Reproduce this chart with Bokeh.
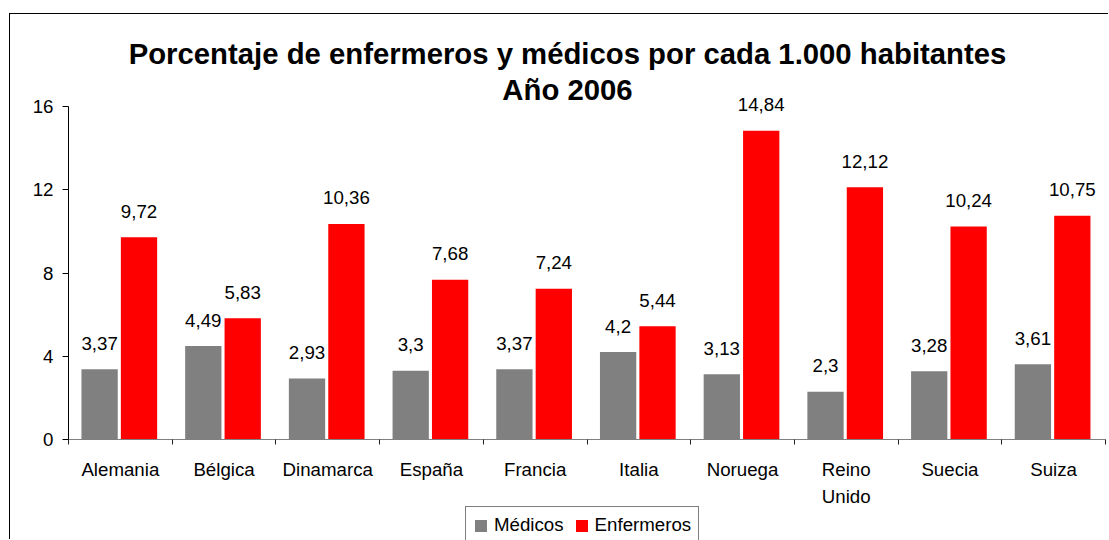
from bokeh.plotting import figure
from bokeh.models import ColumnDataSource, FixedTicker, Range1d, Label, Legend, LegendItem
from bokeh.core.properties import value
from bokeh.embed import file_html
from bokeh.resources import INLINE

# ---- data ----
categories = ["Alemania", "Bélgica", "Dinamarca", "España", "Francia",
              "Italia", "Noruega", "Reino Unido", "Suecia", "Suiza"]
medicos = [3.37, 4.49, 2.93, 3.3, 3.37, 4.2, 3.13, 2.3, 3.28, 3.61]
enfermeros = [9.72, 5.83, 10.36, 7.68, 7.24, 5.44, 14.84, 12.12, 10.24, 10.75]
y_ticks = [0, 4, 8, 12, 16]
title_lines = ["Porcentaje de enfermeros y médicos por cada 1.000 habitantes", "Año 2006"]
series_names = ["Médicos", "Enfermeros"]

FONT = "Liberation Sans"
FS = "18.7px"

def fmt(v):
    return ("%g" % v).replace(".", ",")

# ---- layout geometry (pixels inside the canvas) ----
W, H = 1099, 526
PX_L, PX_R = 58, 1095      # plot area left/right
PX_T, PX_B = 92, 425       # plot area top (y=16) / bottom (y=0)
n = len(categories)
ymax = y_ticks[-1]
xs = (PX_R - PX_L) / n
ys = (PX_B - PX_T) / ymax
x_range = Range1d(-PX_L / xs, (W - PX_L) / xs)
y_range = Range1d(-(H - PX_B) / ys, ymax + PX_T / ys)

centers = [i + 0.49 for i in range(n)]
off = 0.19
bw = 0.35

src_m = ColumnDataSource(dict(x=[c - off for c in centers], top=medicos,
                              lab=[fmt(v) for v in medicos]))
src_e = ColumnDataSource(dict(x=[c + off for c in centers], top=enfermeros,
                              lab=[fmt(v) for v in enfermeros]))

p = figure(width=W, height=H, output_backend="svg", toolbar_location=None,
           x_range=x_range, y_range=y_range,
           min_border_left=0, min_border_right=0, min_border_top=0, min_border_bottom=0,
           styles={"margin-left": "9px", "margin-top": "13px",
                   "border-left": "1px solid black", "border-top": "1px solid black"})
p.title.visible = False
p.outline_line_color = None
p.background_fill_color = "white"
p.border_fill_color = "white"
p.xgrid.visible = False
p.ygrid.visible = False

r_m = p.vbar(x="x", top="top", width=bw, bottom=0, source=src_m, color="#808080",
             line_color=None)
r_e = p.vbar(x="x", top="top", width=bw, bottom=0, source=src_e, color="#FF0000",
             line_color=None)

for s in (src_m, src_e):
    p.text(x="x", y="top", text="lab", source=s, text_align="center",
           text_baseline="alphabetic", y_offset=-26, text_color="black",
           text_font=value(FONT), text_font_size=FS)

# x axis: labels at centres, ticks at boundaries
xa = p.xaxis[0]
xa.fixed_location = 0
xa.bounds = (0, n)
xa.ticker = FixedTicker(ticks=[i + 0.5 for i in range(n)],
                        minor_ticks=list(range(n + 1)))
xa.major_label_overrides = {i + 0.5: c.replace(" ", "\n") for i, c in enumerate(categories)}
xa.major_tick_line_color = None
xa.major_tick_out = 0
xa.major_tick_in = 0
xa.minor_tick_out = 5
xa.minor_tick_in = 0
xa.minor_tick_line_color = "#202020"
xa.axis_line_color = "#808080"
xa.major_label_standoff = 14
xa.major_label_text_font = FONT
xa.major_label_text_font_size = FS
xa.major_label_text_color = "black"
xa.major_label_text_line_height = 1.33

ya = p.yaxis[0]
ya.fixed_location = 0
ya.bounds = (0, ymax)
ya.ticker = FixedTicker(ticks=y_ticks, minor_ticks=[])
ya.axis_line_color = "black"
ya.major_tick_line_color = "black"
ya.major_tick_out = 6
ya.major_tick_in = 0
ya.minor_tick_line_color = None
ya.major_label_standoff = 9
ya.major_label_text_font = FONT
ya.major_label_text_font_size = FS
ya.major_label_text_color = "black"

# title: two centred lines above the plot area
for t, y_px in zip(title_lines, [39, 75]):
    p.add_layout(Label(x=(557 - PX_L) / xs, y=ymax + (PX_T - y_px) / ys, text=t,
                       text_align="center", text_baseline="alphabetic",
                       text_font=FONT, text_font_size="29.3px", text_font_style="bold",
                       text_color="black"))

# legend under the category labels
lg = Legend(items=[LegendItem(label=series_names[0], renderers=[r_m]),
                   LegendItem(label=series_names[1], renderers=[r_e])],
            orientation="horizontal", location=(455, -4),
            border_line_color="black", border_line_width=1,
            background_fill_color="white", background_fill_alpha=1,
            label_text_font=FONT, label_text_font_size=FS, label_text_color="black",
            glyph_width=15, glyph_height=15, label_height=20,
            label_standoff=6, spacing=10, padding=7, margin=0)
p.add_layout(lg, "center")

open("out.html", "w").write(file_html(p, INLINE))
